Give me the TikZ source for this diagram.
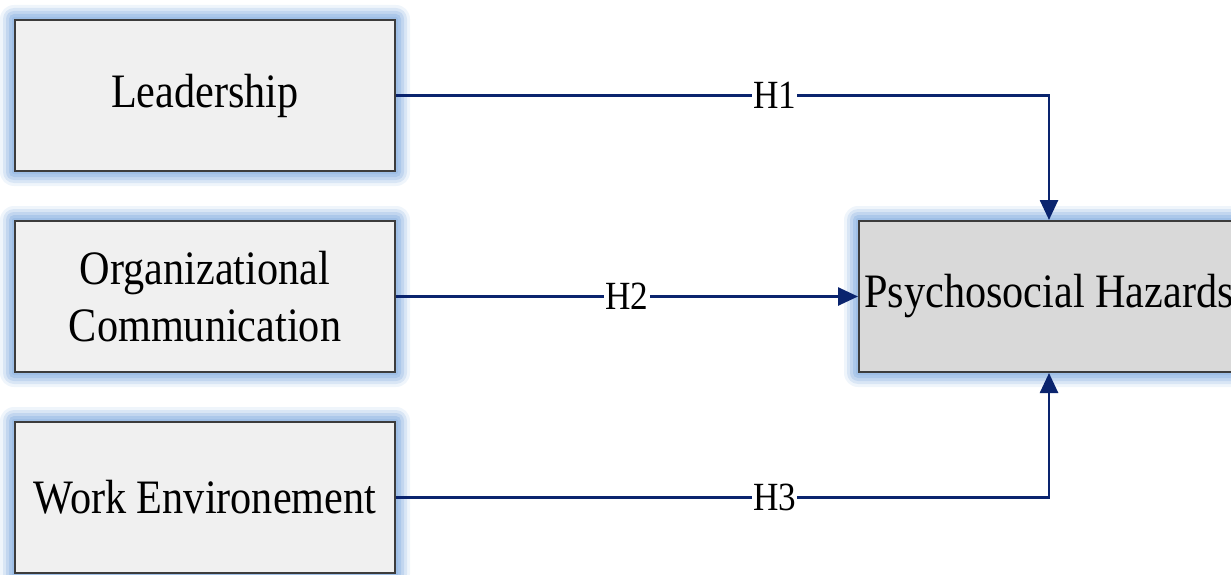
\documentclass[tikz,border=0pt]{standalone}
\usepackage{fontspec}
\setmainfont{Liberation Serif}[FakeStretch=0.88]
\usetikzlibrary{arrows.meta,backgrounds}
\definecolor{navy}{RGB}{10,36,110}
\definecolor{glowc}{RGB}{150,185,228}
\definecolor{boxgray}{RGB}{240,240,240}
\definecolor{psygray}{RGB}{217,217,217}
\definecolor{edgec}{RGB}{60,60,60}
\tikzset{
  varbox/.style={draw=edgec, line width=2pt, fill=boxgray, minimum width=380pt, minimum height=151pt,
    inner sep=0pt, align=center, font=\fontsize{48}{57}\selectfont},
  outbox/.style={varbox, fill=psygray},
  conn/.style={draw=navy, line width=2.6pt, -{Triangle[length=20pt,width=18pt]}},
  hlabel/.style={fill=white, inner sep=1pt, font=\fontsize{40}{44}\selectfont},
}
\begin{document}
\begin{tikzpicture}[x=1pt,y=-1pt]
\useasboundingbox (0,0) rectangle (1231,575);
\node[varbox] (lead) at (205,95.5) {\raisebox{-4pt}{Leadership}};
\node[varbox] (org) at (205,296.5) {Organizational\\Communication};
\node[varbox] (work) at (205,497.5) {\raisebox{-2pt}{Work Environement}};
\node[outbox] (psych) at (1049,296.5) {\raisebox{-3pt}{Psychosocial Hazards}};
\begin{scope}[on background layer]
\foreach \n in {lead,org,work,psych}{
  \foreach \d/\o in {14/0.15,11/0.25,8/0.35,5/0.5,2/0.6}{
    \fill[glowc, opacity=\o, rounded corners=\d pt]
      ([xshift=-\d pt,yshift=\d pt]\n.north west) rectangle ([xshift=\d pt,yshift=-\d pt]\n.south east);
  }
}
\end{scope}
\draw[conn] (lead.east) -| node[hlabel, pos=0.29] {H1} (psych.north);
\draw[conn] (org.east) -- node[hlabel, pos=0.5] {H2} (psych.west);
\draw[conn] (work.east) -| node[hlabel, pos=0.29] {H3} (psych.south);
\end{tikzpicture}
\end{document}
